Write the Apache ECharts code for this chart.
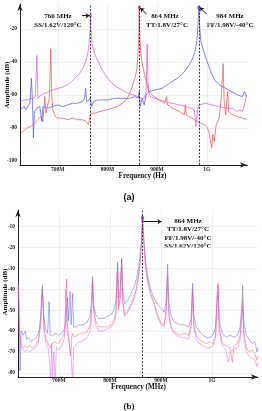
<!DOCTYPE html>
<html>
<head>
<meta charset="utf-8">
<script src="https://cdn.jsdelivr.net/npm/echarts@6/dist/echarts.min.js"></script>
<style>
  html, body { margin: 0; padding: 0; background: #fff; }
  #chart { width: 262px; height: 411px; }
</style>
</head>
<body>
<div id="chart"></div>
<script>
// ---- data ----
// (a) frequency sweep, one trace per corner (MHz, dB)
const ssA = [[624,-64],[632,-63],[640,-63],[648,-62],[655,-61],[658,-36],[660,-62],[666,-60],[674,-59],[682,-58],[690,-57],[700,-56],[712,-55],[724,-53],[734,-50],[744,-47],[752,-43],[757,-39],[761,-34],[763,-29],[765,-21],[766,-12],[767,-21],[769,-29],[772,-33],[777,-37],[782,-40],[788,-44],[796,-48],[806,-52],[818,-55],[830,-57],[842,-59],[852,-60],[862,-61],[868,-62],[874,-62],[878,-58],[880,-29],[882,-57],[886,-61],[895,-62],[905,-63],[917,-64],[930,-65],[945,-66],[958,-67],[968,-68],[975,-69],[978,-79],[981,-70],[984,-66],[988,-65],[998,-65],[1010,-66],[1025,-67],[1040,-68],[1052,-68],[1060,-70],[1066,-69],[1072,-70],[1076,-66],[1080,-60]];
const ffA = [[624,-69],[628,-70],[632,-67],[636,-69],[640,-67],[644,-65],[647,-50],[649,-63],[651,-86],[653,-70],[658,-68],[664,-67],[668,-76],[670,-67],[680,-68],[690,-67],[700,-66],[710,-67],[720,-66],[730,-65],[740,-65],[750,-64],[754,-62],[756,-56],[758,-64],[763,-63],[766,-61],[768,-67],[772,-64],[780,-63],[790,-63],[800,-63],[815,-62],[830,-62],[845,-62],[855,-61],[862,-62],[864,-58],[866,-67],[870,-62],[874,-66],[878,-60],[883,-58],[895,-57],[910,-56],[925,-53],[940,-50],[952,-47],[962,-43],[970,-39],[976,-34],[980,-27],[982,-20],[984,-7],[986,-20],[988,-27],[993,-33],[1000,-39],[1008,-46],[1016,-51],[1026,-54],[1038,-56],[1050,-58],[1062,-60],[1072,-61],[1076,-58],[1080,-61]];
const ttA = [[624,-84],[630,-82],[638,-80],[646,-79],[654,-77],[660,-75],[666,-73],[670,-76],[674,-61],[676,-71],[680,-72],[683,-62],[686,-32],[688,-60],[690,-69],[695,-73],[700,-74],[710,-74],[720,-75],[730,-74],[740,-75],[750,-75],[757,-76],[762,-78],[765,-79],[766,-71],[775,-71],[785,-70],[798,-69],[810,-68],[820,-67],[830,-65],[838,-63],[845,-59],[850,-55],[855,-50],[859,-45],[861,-38],[863,-25],[864,-7],[865,-25],[867,-34],[869,-39],[875,-48],[883,-57],[890,-60],[903,-63],[915,-65],[919,-61],[921,-66],[931,-68],[945,-70],[955,-72],[957,-66],[959,-72],[970,-74],[985,-77],[995,-78],[1000,-79],[1004,-82],[1007,-87],[1010,-92],[1012,-84],[1015,-88],[1019,-78],[1025,-74],[1029,-62],[1033,-41],[1035,-64],[1038,-72],[1042,-58],[1044,-70],[1052,-72],[1062,-73],[1072,-74],[1080,-75]];
const peakFreqA = [766, 864, 984];
const peakDbA = [-12, -7, -7];

// (b) all three corners locked at 864 MHz
const ttB = [[620,-42],[621,-38],[623,-60],[626,-66],[630,-68],[634,-67],[638,-68],[642,-67],[648,-68],[654,-67],[660,-64],[664,-56],[667,-40],[669,-44],[671,-58],[675,-64],[679,-66],[683,-68],[687,-66],[692,-65],[697,-66],[702,-65],[707,-63],[712,-60],[715,-35],[717,-58],[720,-64],[723,-72],[726,-61],[730,-63],[736,-62],[743,-61],[750,-61],[756,-60],[761,-57],[764,-50],[766,-36],[768,-48],[772,-55],[778,-58],[786,-58],[795,-58],[803,-57],[809,-54],[812,-50],[815,-28],[817,-48],[820,-44],[823,-26],[825,-45],[829,-52],[835,-50],[841,-47],[847,-44],[852,-39],[856,-33],[859,-27],[862,-17],[864,-6.5],[866,-16],[868,-23],[871,-31],[875,-37],[880,-42],[886,-46],[893,-52],[900,-56],[906,-57],[910,-50],[913,-33],[915,-50],[919,-57],[924,-60],[930,-61],[938,-62],[946,-61],[954,-62],[959,-57],[962,-40],[964,-56],[969,-62],[975,-64],[982,-65],[989,-66],[996,-65],[1002,-66],[1007,-62],[1010,-42],[1012,-37],[1014,-58],[1020,-66],[1027,-67],[1035,-68],[1040,-75],[1043,-67],[1050,-66],[1055,-62],[1058,-52],[1060,-45],[1062,-60],[1067,-68],[1073,-70],[1079,-69],[1084,-71],[1088,-74],[1090,-72]];
const ffB = [[620,-40],[621,-36],[622,-55],[624,-79],[626,-60],[630,-62],[634,-60],[637,-64],[641,-63],[646,-65],[652,-64],[657,-63],[662,-59],[665,-52],[668,-38],[670,-52],[674,-59],[678,-61],[681,-46],[683,-62],[688,-62],[694,-61],[700,-62],[706,-61],[711,-59],[714,-55],[717,-44],[719,-55],[722,-41],[724,-57],[727,-42],[729,-58],[734,-58],[740,-57],[748,-57],[755,-56],[761,-53],[764,-46],[766,-34],[768,-47],[772,-52],[778,-54],[786,-54],[795,-53],[803,-52],[809,-49],[812,-45],[815,-27],[817,-44],[820,-40],[823,-25],[825,-41],[829,-47],[835,-45],[841,-42],[847,-39],[852,-35],[856,-30],[859,-24],[862,-15],[864,-5.5],[866,-14],[868,-21],[871,-29],[875,-35],[880,-40],[886,-44],[893,-47],[900,-49],[906,-51],[910,-46],[913,-28],[915,-45],[919,-52],[924,-55],[930,-56],[938,-57],[946,-57],[954,-58],[959,-54],[962,-37],[964,-52],[969,-58],[975,-60],[982,-62],[989,-63],[996,-63],[1002,-62],[1007,-58],[1010,-45],[1012,-41],[1014,-55],[1020,-61],[1027,-63],[1035,-62],[1043,-63],[1050,-62],[1055,-58],[1058,-49],[1060,-38],[1062,-55],[1067,-62],[1073,-64],[1079,-66],[1084,-65],[1088,-70],[1090,-68]];
const ssB = [[620,-45],[621,-40],[623,-63],[626,-68],[630,-69],[634,-70],[638,-69],[643,-70],[649,-69],[655,-68],[660,-66],[664,-58],[667,-42],[669,-47],[671,-60],[675,-66],[679,-68],[682,-75],[684,-84],[686,-66],[688,-84],[690,-70],[693,-84],[695,-68],[700,-69],[706,-67],[711,-63],[714,-40],[716,-60],[720,-66],[724,-72],[727,-84],[729,-68],[735,-66],[742,-65],[750,-64],[756,-63],[761,-60],[764,-53],[766,-38],[768,-50],[772,-57],[778,-60],[786,-60],[795,-59],[803,-58],[809,-56],[812,-52],[815,-30],[817,-50],[820,-45],[823,-28],[825,-47],[829,-53],[835,-51],[841,-48],[847,-45],[852,-40],[856,-34],[859,-28],[862,-18],[864,-7],[866,-17],[868,-24],[871,-32],[875,-38],[880,-43],[886,-47],[893,-53],[900,-57],[906,-58],[910,-52],[913,-35],[915,-52],[919,-58],[924,-61],[930,-62],[938,-63],[946,-63],[954,-64],[959,-59],[962,-42],[964,-58],[969,-64],[975,-66],[982,-67],[989,-68],[996,-68],[1002,-67],[1007,-63],[1010,-44],[1012,-38],[1014,-60],[1020,-67],[1027,-69],[1032,-75],[1035,-70],[1043,-69],[1050,-68],[1055,-64],[1058,-55],[1060,-48],[1062,-62],[1067,-70],[1073,-72],[1079,-73],[1084,-74],[1088,-77],[1090,-75]];
const peakFreqB = 864;
const peakDbB = [-5.5, -7];

// axis ticks
const xTickVals = [700, 800, 900, 1000];
const xTickText = ['700M', '800M', '900M', '1G'];
const yTicksA = [-100, -80, -60, -40, -20];
const yTicksB = [-80, -70, -60, -50, -40, -30, -20, -10];

// ---- styles ----
const SERIF = '"Liberation Serif", "DejaVu Serif", serif';
const RED = '#f05a5a';
const BLUE = '#5a5ae6';
const PINK = '#e060e0';

const chart = echarts.init(document.getElementById('chart'), null, { renderer: 'canvas' });

const xAxisOf = (gridIndex, min, max, margin) => ({
    gridIndex, type: 'value', min, max,
    axisLine: { show: true, symbol: ['none', 'arrow'], symbolSize: [4, 7], lineStyle: { color: '#222', width: 1 } },
    axisTick: { show: false, customValues: xTickVals },
    axisLabel: {
        customValues: xTickVals,
        formatter: v => xTickText[xTickVals.indexOf(v)],
        fontSize: 5.5, fontFamily: SERIF, fontWeight: 'bold', color: '#222', margin
    },
    splitLine: { show: true, lineStyle: { color: '#e6e6e6', width: 0.6 } }
});

const yAxisOf = (gridIndex, min, max, ticks) => ({
    gridIndex, type: 'value', min, max,
    axisLine: { show: true, symbol: ['none', 'arrow'], symbolSize: [4, 7], lineStyle: { color: '#222', width: 1 } },
    axisTick: { show: false, customValues: ticks },
    axisLabel: {
        customValues: ticks,
        fontSize: 5.5, fontFamily: SERIF, fontWeight: 'bold', color: '#222', margin: 3
    },
    splitLine: { show: true, lineStyle: { color: '#e6e6e6', width: 0.6 } }
});

const trace = (data, color, axis, opacity, width) => ({
    type: 'line', data, xAxisIndex: axis, yAxisIndex: axis,
    showSymbol: false, silent: true, animation: false,
    lineStyle: { color, width, opacity }
});

// arrows pointing at the peaks
const arrow = (axis, from, to) => ({
    type: 'line', data: [], xAxisIndex: axis, yAxisIndex: axis, silent: true,
    markLine: {
        silent: true, animation: false, symbol: ['none', 'arrow'], symbolSize: 4,
        label: { show: false },
        lineStyle: { color: '#111', width: 1, type: 'solid' },
        data: [[{ coord: from }, { coord: to }]]
    }
});

const txt = (x, y, text, size, extra) => Object.assign({
    type: 'text', x, y, silent: true,
    style: { text, font: 'bold ' + size + 'px ' + SERIF, fill: '#111', align: 'center', verticalAlign: 'middle' }
}, extra || {});

const option = {
    backgroundColor: '#fff',
    animation: false,
    grid: [
        { left: 20, right: 15, top: 4, bottom: 246 },
        { left: 18, right: 4, top: 210, bottom: 34 }
    ],
    xAxis: [xAxisOf(0, 624, 1081, 2), xAxisOf(1, 620, 1090, 0.5)],
    yAxis: [yAxisOf(0, -102.4, -4.9, yTicksA), yAxisOf(1, -82, -2, yTicksB)],
    series: [
        trace(ssA, PINK, 0, 0.95, 0.8),
        Object.assign(trace(ffA, BLUE, 0, 0.95, 0.8), {
            markLine: {
                silent: true, animation: false, symbol: 'none', label: { show: false },
                lineStyle: { color: '#111', width: 0.8, type: [2, 1.5] },
                data: peakFreqA.map(f => ({ xAxis: f }))
            }
        }),
        trace(ttA, RED, 0, 0.95, 0.8),
        {
            type: 'scatter', xAxisIndex: 0, yAxisIndex: 0, symbol: 'rect', symbolSize: 3, silent: true,
            data: peakFreqA.map((f, i) => ({ value: [f, peakDbA[i]], itemStyle: { color: [PINK, RED, BLUE][i] } }))
        },
        arrow(0, [749, -12], [764, -12]),
        arrow(0, [879, -11], [866, -7.3]),
        arrow(0, [1000, -11], [986, -7]),

        trace(ffB, BLUE, 1, 0.7, 0.7),
        trace(ttB, RED, 1, 0.7, 0.7),
        Object.assign(trace(ssB, PINK, 1, 0.7, 0.7), {
            markLine: {
                silent: true, animation: false, symbol: 'none', label: { show: false },
                lineStyle: { color: '#111', width: 0.8, type: [2, 1.5] },
                data: [{ xAxis: peakFreqB }]
            }
        }),
        {
            type: 'scatter', xAxisIndex: 1, yAxisIndex: 1, symbol: 'rect', symbolSize: 3, silent: true,
            data: peakDbB.map((d, i) => ({ value: [peakFreqB, d], itemStyle: { color: [BLUE, PINK][i] } }))
        },
        arrow(1, [866, -7.6], [901, -7.6])
    ],
    graphic: [
        // (a) annotations
        txt(58, 15.7, '766 MHz', 7),
        txt(58, 25, 'SS/1.62V/120°C', 7),
        txt(165, 15.7, '864 MHz', 7),
        txt(167, 25, 'TT/1.8V/27°C', 7),
        txt(230, 15.7, '984 MHz', 7),
        txt(230, 25, 'FF/1.98V/-40°C', 7),
        txt(7.5, 85, 'Amplitude (dB)', 7, { rotation: Math.PI / 2 }),
        txt(142.5, 176.5, 'Frequency (Hz)', 7.2),
        { type: 'text', x: 129, y: 198, silent: true,
          style: { text: '(a)', font: 'bold 9px "Liberation Sans", Arial, sans-serif', fill: '#111', align: 'center', verticalAlign: 'middle' } },
        // (b) annotations
        txt(188, 221, '864 MHz', 7),
        txt(188, 229.5, 'TT/1.8V/27°C', 7),
        txt(188, 238, 'FF/1.98V/-40°C', 7),
        txt(188, 246.5, 'SS/1.62V/120°C', 7),
        txt(5, 292, 'Amplitude (dB)', 7, { rotation: Math.PI / 2 }),
        txt(138.5, 387.5, 'Frequency (MHz)', 7.2),
        txt(129, 406.5, '(b)', 9)
    ]
};

chart.setOption(option);
</script>
</body>
</html>
